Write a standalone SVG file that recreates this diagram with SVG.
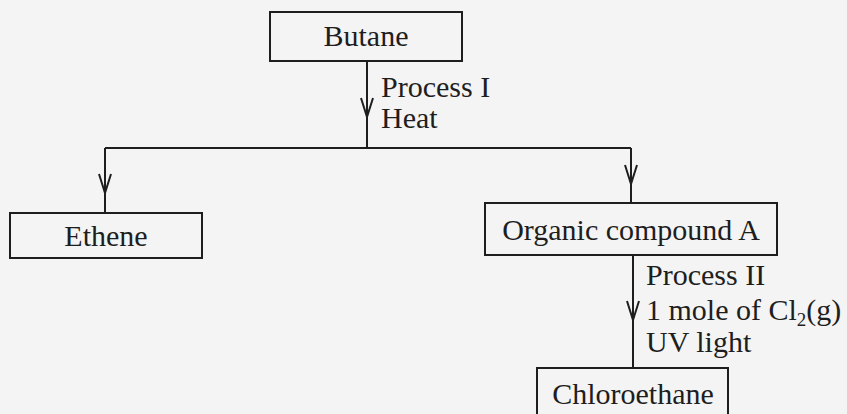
<svg xmlns="http://www.w3.org/2000/svg" width="847" height="414" viewBox="0 0 847 414">
<defs>
<style>
.box{fill:none;stroke:#1e1e1e;stroke-width:2}
.ln{fill:none;stroke:#1e1e1e;stroke-width:2}
.t{font-family:"Liberation Serif","Times New Roman",serif;font-size:30px;fill:#1e1e1e}
.c{text-anchor:middle}
</style>
<marker id="ah" viewBox="0 0 21 14" refX="20" refY="7" markerWidth="21" markerHeight="14" markerUnits="userSpaceOnUse" orient="auto">
<path d="M1,1 L20,7 L1,13" fill="none" stroke="#1e1e1e" stroke-width="2"/>
</marker>
</defs>
<rect width="847" height="414" fill="#f4f4f4"/>
<g id="connectors">
<path class="ln" d="M367,61 V148"/>
<path class="ln" d="M367,95 V117" marker-end="url(#ah)"/>
<path class="ln" d="M105,148 H631"/>
<path class="ln" d="M105,148 V213"/>
<path class="ln" d="M105,172 V193" marker-end="url(#ah)"/>
<path class="ln" d="M631,148 V203"/>
<path class="ln" d="M631,163 V184" marker-end="url(#ah)"/>
<path class="ln" d="M633,255 V368"/>
<path class="ln" d="M633,300 V320" marker-end="url(#ah)"/>
<text class="t" x="381" y="97">Process I</text>
<text class="t" x="381" y="128">Heat</text>
<text class="t" x="646" y="285">Process II</text>
<text class="t" x="646" y="320">1 mole of Cl<tspan font-size="19" dy="6">2</tspan><tspan dy="-6">(g)</tspan></text>
<text class="t" x="646" y="352">UV light</text>
</g>
<g id="butane">
<rect class="box" x="270" y="12" width="192" height="49"/>
<text class="t c" x="366" y="46">Butane</text>
</g>
<g id="ethene">
<rect class="box" x="10" y="213" width="192" height="45"/>
<text class="t c" x="106" y="246">Ethene</text>
</g>
<g id="compoundA">
<rect class="box" x="485" y="203" width="292" height="52"/>
<text class="t c" x="631" y="240">Organic compound A</text>
</g>
<g id="chloroethane">
<rect class="box" x="537" y="368" width="191" height="60"/>
<text class="t c" x="633" y="404">Chloroethane</text>
</g>
</svg>
